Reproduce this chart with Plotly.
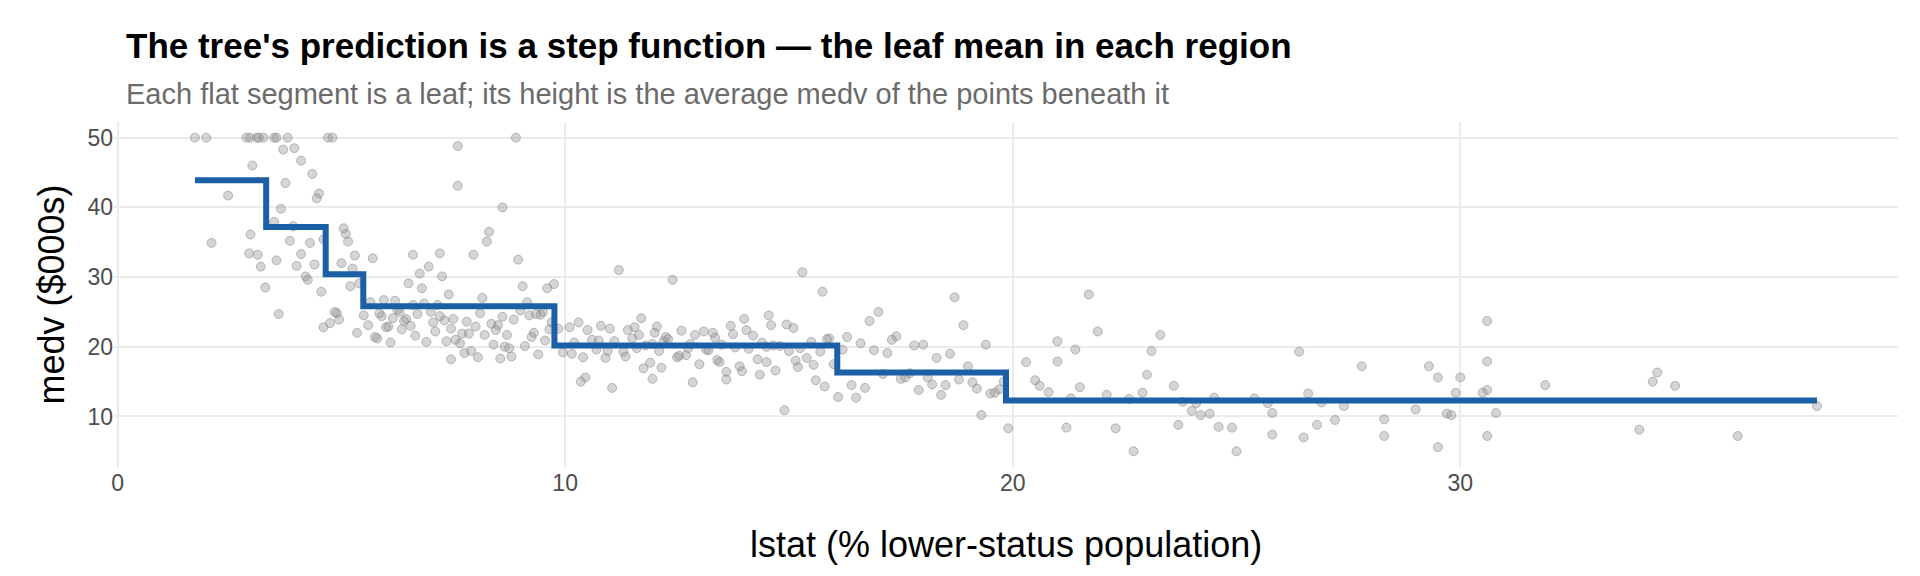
import plotly.graph_objects as go

# points (lstat, medv)
lstat = [
    1.73, 1.98, 2.47, 2.88, 2.94, 2.96, 3.01, 3.11, 3.16, 3.26, 2.97, 3.13, 3.20, 2.10, 3.30,
    3.50, 3.55, 3.70, 3.95, 3.80, 4.10, 3.75, 4.50, 3.60, 3.55, 4.00, 4.20, 3.92, 4.60, 3.50,
    4.30, 4.45, 3.65, 4.60, 4.40, 4.10, 4.25, 3.85, 4.55, 4.35,
    4.70, 4.80, 4.90, 5.00, 5.10, 5.20, 5.30, 5.40, 4.75, 4.95, 5.05, 5.25, 5.35, 4.85, 5.15,
    5.50, 5.60, 5.70, 5.80, 5.90, 6.00, 6.10, 6.20, 6.30, 6.40, 6.50, 6.60, 6.70, 6.80, 6.90,
    7.00, 7.10, 7.20, 7.30, 7.40, 7.50, 7.60, 7.70, 7.80, 7.90, 8.00, 8.10, 8.20, 8.30, 8.40,
    8.50, 8.60, 8.70, 8.80, 8.90, 9.00, 9.10, 9.20, 9.30, 9.40, 9.50, 9.60, 9.70, 5.65, 5.85,
    6.05, 6.25, 6.45, 6.65, 6.85, 7.05, 7.25, 7.45, 7.65, 7.85, 8.05, 8.25, 8.45, 8.65, 8.85,
    9.05, 9.25, 9.45, 9.65, 6.15, 6.55, 6.95, 7.35, 7.75, 8.15, 8.55, 8.95, 9.35, 9.75, 5.95,
    6.35, 6.75, 7.15, 7.55, 7.95, 8.35, 8.75, 9.15, 9.55, 5.75, 6.60, 7.60, 8.60, 7.45, 7.20,
    9.85, 9.95, 10.10, 10.20, 10.30, 10.40, 10.50, 10.60, 10.70, 10.80, 10.90, 11.00, 11.10,
    11.20, 11.30, 11.40, 11.50, 11.60, 11.70, 11.80, 11.90, 12.00, 12.10, 12.20, 12.30, 12.40,
    12.50, 12.60, 12.70, 12.80, 12.90, 13.00, 13.10, 13.20, 13.30, 13.40, 13.50, 13.60, 13.70,
    13.80, 13.90, 14.00, 14.10, 14.20, 14.30, 14.40, 14.50, 14.60, 14.70, 14.80, 14.90, 15.00,
    15.10, 15.20, 15.30, 15.40, 15.50, 15.60, 15.70, 15.80, 15.90, 16.00, 10.15, 10.45, 10.75,
    11.05, 11.35, 11.65, 11.95, 12.25, 12.55, 12.85, 13.15, 13.45, 13.75, 14.05, 14.35, 14.65,
    14.95, 15.25, 15.55, 15.85, 10.35, 10.95, 11.55, 12.15, 12.75, 13.35, 13.95, 14.55, 15.15,
    15.75, 11.95, 13.60, 14.50, 12.05, 11.75,
    16.20, 16.40, 16.60, 16.80, 17.00, 17.20, 17.40, 17.60, 17.80, 18.00, 18.20, 18.40, 18.60,
    18.80, 19.00, 19.20, 19.40, 19.60, 19.80, 16.30, 16.70, 17.10, 17.50, 17.90, 18.30, 18.70,
    19.10, 19.50, 19.90, 16.50, 17.30, 18.10, 18.90, 19.70, 16.90, 17.70, 18.50, 19.30, 16.10,
    20.30, 20.50, 20.80, 21.00, 21.20, 21.30, 21.50, 21.40, 21.70, 21.90, 22.10, 22.30, 22.60,
    22.90, 23.00, 23.10, 23.30, 23.60, 23.80, 24.00, 24.10, 24.20, 24.40, 24.50, 24.60, 25.00,
    25.40, 25.70, 25.80, 26.40, 26.50, 26.60, 26.80, 26.90, 27.20, 27.40, 27.80, 28.30, 28.30,
    29.00, 29.30, 29.50, 29.50, 29.70, 29.90, 30.00, 30.60, 30.60, 30.80, 30.60, 30.50, 30.60,
    31.90, 34.00, 34.30, 34.40, 34.80, 36.20, 37.97, 29.80, 22.70, 23.70, 25.80, 24.90, 21.00,
    20.60,
]
medv = [
    50.0, 50.0, 41.7, 50.0, 33.4, 50.0, 46.0, 50.0, 50.0, 50.0, 36.1, 33.2, 31.5, 34.9, 28.5,
    50.0, 50.0, 48.3, 48.5, 50.0, 46.7, 43.5, 42.0, 24.7, 32.4, 31.6, 30.1, 37.3, 35.4, 37.9,
    34.9, 41.3, 39.8, 22.8, 31.8, 33.3, 29.6, 35.2, 27.9, 44.8,
    50.0, 50.0, 24.8, 32.0, 36.2, 28.7, 33.1, 29.1, 23.4, 23.9, 37.0, 31.2, 22.0, 25.0, 35.1,
    24.5, 23.1, 32.7, 21.2, 24.4, 22.8, 20.6, 26.6, 25.0, 23.7, 29.1, 33.2, 24.7, 28.4, 20.7,
    25.0, 22.2, 33.4, 23.8, 27.5, 24.0, 43.1, 21.9, 23.6, 19.4, 22.9, 24.8, 21.7, 36.5, 20.3,
    23.1, 24.3, 21.7, 18.6, 50.0, 25.2, 20.1, 24.5, 22.0, 18.9, 25.0, 28.4, 23.5, 26.4, 24.8,
    22.9, 25.3, 24.0, 21.6, 26.2, 23.5, 30.1, 22.6, 20.5, 21.9, 18.5, 35.1, 22.4, 20.0, 23.9,
    28.7, 21.4, 24.6, 22.5, 24.1, 23.0, 31.5, 20.8, 19.1, 27.0, 18.3, 32.5, 24.7, 29.0, 26.7,
    22.5, 30.5, 26.0, 21.0, 33.2, 23.3, 19.8, 26.4, 20.9, 21.4, 26.0, 48.8, 40.0, 18.2, 24.4, 22.6,
    19.2, 22.8, 20.6, 23.5, 18.5, 22.4, 21.0, 19.6, 23.0, 18.4, 22.6, 20.8, 31.0,
    19.3, 22.4, 21.2, 19.8, 24.1, 20.2, 17.7, 22.0, 19.4, 20.8, 21.1, 29.6, 18.5, 22.3, 18.8,
    20.4, 21.7, 17.5, 22.2, 19.5, 22.0, 18.1, 20.3, 16.4, 23.0, 19.9, 17.2, 24.0, 19.7, 21.6,
    18.2, 20.6, 17.8, 23.1, 16.6, 20.1, 10.9, 19.4, 22.7, 17.1, 30.7, 18.4, 20.7, 15.2, 19.3,
    14.3, 21.2, 17.5, 19.0, 15.6, 20.9, 14.1, 18.6, 21.7, 15.4, 21.4, 18.7, 14.9,
    19.6, 17.8, 21.8, 22.4, 16.0, 20.2, 23.2, 19.8, 17.4, 21.1, 15.0, 19.4, 22.8, 17.0, 19.8,
    21.3, 16.5, 24.5, 18.0, 27.9, 20.4, 15.3, 20.0, 22.9, 16.9, 19.6, 14.5, 20.5, 23.7,
    25.0, 19.1, 21.5, 15.6, 20.2, 20.3,
    14.6, 13.1, 19.0, 15.3, 17.2, 14.0, 20.3, 13.4, 15.0, 21.4, 14.1, 16.1, 15.4, 13.8, 18.4,
    27.1, 14.9, 13.3, 8.3, 12.7, 21.0, 15.6, 23.1, 13.9, 19.5, 16.2, 14.5, 10.2, 12.8, 17.8,
    15.2, 13.5, 20.8, 8.4, 12.6, 14.2, 19.6, 27.5, 22.2,
    13.1, 8.3, 12.5, 13.4, 16.0, 19.4, 21.7, 14.4, 12.1, 10.8, 11.9, 10.2, 10.4, 12.7, 8.5,
    5.0, 12.6, 11.9, 10.5, 19.3, 7.0, 13.3, 8.8, 12.0, 9.5, 11.5, 17.2, 9.6, 7.2, 11.0, 17.2,
    15.6, 5.6, 10.4, 13.4, 15.6, 13.8, 17.9, 10.5, 7.2, 13.4, 23.7, 14.5, 8.1, 15.0, 16.3,
    14.4, 7.2, 11.5, 10.2, 5.0, 8.8, 7.4, 8.4, 17.9, 14.4, 13.8, 7.0, 13.8, 6.3, 8.8, 13.1,
    11.9, 12.7, 9.6, 12.3,
]

# tree leaves: left edges, right edges and leaf means
leaf_lo = [1.73, 3.32, 4.65, 5.49, 9.76, 16.08, 19.85]
leaf_hi = [3.32, 4.65, 5.49, 9.76, 16.08, 19.85, 37.97]
leaf_mean = [43.9, 37.2, 30.4, 25.8, 20.2, 16.3, 12.3]

step_x, step_y = [], []
for lo, hi, m in zip(leaf_lo, leaf_hi, leaf_mean):
    step_x += [lo, hi]
    step_y += [m, m]

T, B, L, R = 114, 117, 106, 30
ph = 576 - T - B
pw = 1920 - L - R

fig = go.Figure()
fig.add_trace(go.Scatter(x=lstat, y=medv, mode="markers", hoverinfo="skip",
                         marker=dict(size=9, color="rgba(150,150,150,0.4)",
                                     line=dict(color="rgba(120,120,120,0.45)", width=1))))
fig.add_trace(go.Scatter(x=step_x, y=step_y, mode="lines",
                         line=dict(color="#1b5fa6", width=6)))

fig.update_layout(
    width=1920, height=576, showlegend=False,
    paper_bgcolor="white", plot_bgcolor="white",
    margin=dict(l=L, r=R, t=T, b=B),
    font=dict(family="Liberation Sans, Arial, sans-serif", color="#4d4d4d"),
    annotations=[
        dict(text="<b>The tree's prediction is a step function — the leaf mean in each region</b>",
             xref="paper", yref="paper", x=10 / pw, xanchor="left", y=1 + (T - 37) / ph, yanchor="middle",
             showarrow=False, font=dict(size=35, color="black")),
        dict(text="Each flat segment is a leaf; its height is the average medv of the points beneath it",
             xref="paper", yref="paper", x=10 / pw, xanchor="left", y=1 + (T - 86) / ph, yanchor="middle",
             showarrow=False, font=dict(size=29, color="#6b6b6b")),
        dict(text="lstat (% lower-status population)", xref="paper", yref="paper", x=0.5,
             y=-(536 - (T + ph)) / ph, yanchor="middle", showarrow=False,
             font=dict(size=36, color="black")),
        dict(text="medv ($000s)", xref="paper", yref="paper", x=-(L - 43) / pw, xanchor="center",
             y=0.5, textangle=-90, showarrow=False, font=dict(size=36, color="black")),
    ],
)
fig.update_xaxes(range=[-0.08, 39.78], tickvals=[0, 10, 20, 30], showgrid=True, gridcolor="#ebebeb",
                 gridwidth=2, zeroline=False, tickfont=dict(size=23), automargin=False)
fig.update_yaxes(range=[2.75, 52.25], tickvals=[10, 20, 30, 40, 50], showgrid=True, gridcolor="#ebebeb",
                 gridwidth=2, zeroline=False, tickfont=dict(size=23), automargin=False)

fig.write_html("out.html")
